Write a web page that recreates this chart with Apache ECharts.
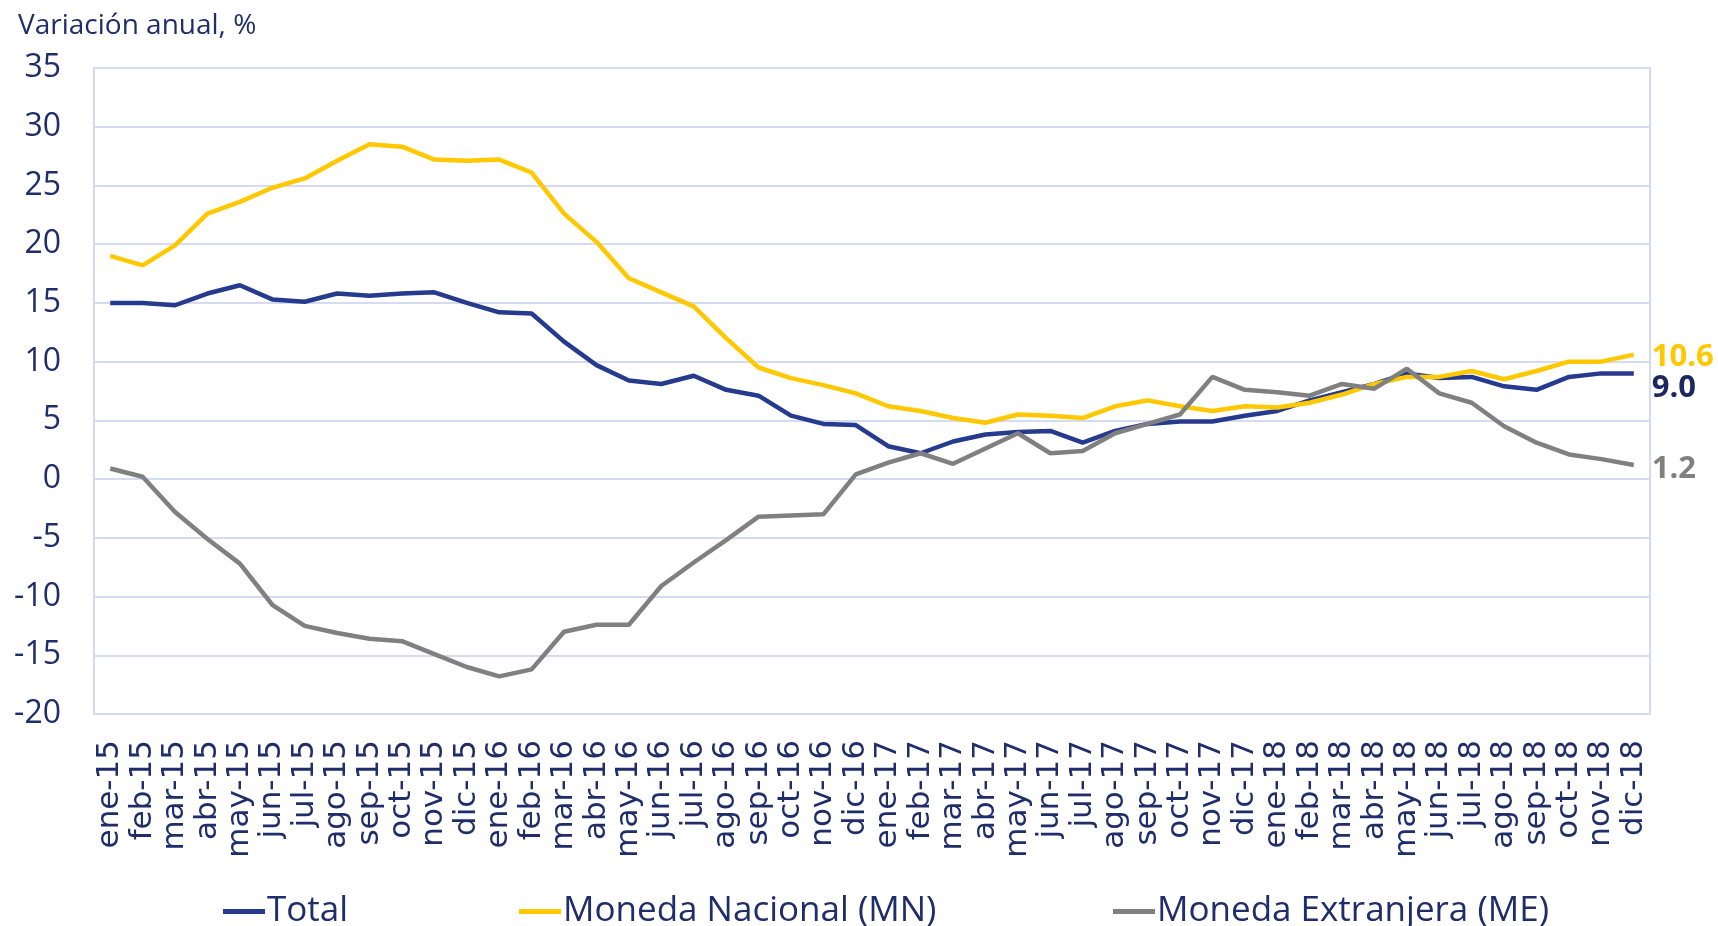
<!DOCTYPE html>
<html>
<head>
<meta charset="utf-8">
<script src="https://cdn.jsdelivr.net/npm/echarts@6/dist/echarts.min.js"></script>
<style>
html, body { margin: 0; padding: 0; background: #fff; }
#chart { width: 1718px; height: 926px; }
</style>
</head>
<body>
<div id="chart"></div>
<script>
// meses ene-15 ... dic-18
var meses = ['ene-15','feb-15','mar-15','abr-15','may-15','jun-15','jul-15','ago-15','sep-15','oct-15','nov-15','dic-15',
  'ene-16','feb-16','mar-16','abr-16','may-16','jun-16','jul-16','ago-16','sep-16','oct-16','nov-16','dic-16',
  'ene-17','feb-17','mar-17','abr-17','may-17','jun-17','jul-17','ago-17','sep-17','oct-17','nov-17','dic-17',
  'ene-18','feb-18','mar-18','abr-18','may-18','jun-18','jul-18','ago-18','sep-18','oct-18','nov-18','dic-18'];

var total = [15.0,15.0,14.8,15.8,16.5,15.3,15.1,15.8,15.6,15.8,15.9,15.0,
  14.2,14.1,11.7,9.7,8.4,8.1,8.8,7.6,7.1,5.4,4.7,4.6,
  2.8,2.2,3.2,3.8,4.0,4.1,3.1,4.1,4.7,4.9,4.9,5.4,
  5.8,6.7,7.4,8.1,9.0,8.6,8.7,7.9,7.6,8.7,9.0,9.0];

var mn = [19.0,18.2,19.9,22.6,23.6,24.8,25.6,27.1,28.5,28.3,27.2,27.1,
  27.2,26.1,22.6,20.2,17.1,15.9,14.7,12.0,9.5,8.6,8.0,7.3,
  6.2,5.8,5.2,4.8,5.5,5.4,5.2,6.2,6.7,6.2,5.8,6.2,
  6.1,6.5,7.2,8.1,8.7,8.7,9.2,8.5,9.2,10.0,10.0,10.6];

var me = [0.9,0.2,-2.8,-5.1,-7.2,-10.7,-12.5,-13.1,-13.6,-13.8,-14.9,-16.0,
  -16.8,-16.2,-13.0,-12.4,-12.4,-9.1,-7.1,-5.2,-3.2,-3.1,-3.0,0.4,
  1.4,2.2,1.3,2.6,3.9,2.2,2.4,3.9,4.7,5.5,8.7,7.6,
  7.4,7.1,8.1,7.7,9.4,7.3,6.5,4.5,3.1,2.1,1.7,1.2];

var nombres = ['Total', 'Moneda Nacional (MN)', 'Moneda Extranjera (ME)'];
var colores = ['#263b8e', '#ffc800', '#808080'];
var coloresEtiqueta = ['#1c275f', '#ffc800', '#808080'];
var azul = '#1f2d6b';
var rejilla = '#d5dbf1';

var chart = echarts.init(document.getElementById('chart'));

function serie(i, datos, offsetY) {
  return {
    name: nombres[i],
    type: 'line',
    data: datos,
    symbol: 'none',
    lineStyle: { color: colores[i], width: 4.5 },
    itemStyle: { color: colores[i] },
    endLabel: {
      show: true,
      formatter: function (p) { return p.value.toFixed(1); },
      color: coloresEtiqueta[i],
      fontFamily: 'Open Sans',
      fontWeight: 'bold',
      fontSize: 31,
      distance: 18,
      offset: [0, offsetY]
    }
  };
}

function leyenda(i, left) {
  return {
    data: [nombres[i]],
    left: left,
    top: 889,
    icon: 'rect',
    itemWidth: 42,
    itemHeight: 5,
    itemGap: 0,
    textStyle: { color: azul, fontFamily: 'Open Sans', fontSize: 35, padding: [0, 0, 0, -3] }
  };
}

chart.setOption({
  animation: false,
  backgroundColor: '#fff',
  title: {
    text: 'Variación anual, %',
    left: 13,
    top: 7,
    textStyle: { color: azul, fontFamily: 'Open Sans', fontWeight: 'normal', fontSize: 28 }
  },
  legend: [leyenda(0, 218), leyenda(1, 514), leyenda(2, 1108)],
  grid: {
    left: 94, right: 68, top: 68, bottom: 212,
    show: true, borderColor: rejilla, borderWidth: 2
  },
  xAxis: {
    type: 'category',
    data: meses,
    boundaryGap: true,
    axisLine: { onZero: false, show: false },
    axisTick: { show: false },
    axisLabel: {
      interval: 0,
      rotate: 90,
      margin: 26,
      color: azul,
      fontFamily: 'DejaVu Sans',
      fontSize: 31
    }
  },
  yAxis: {
    type: 'value',
    min: -20,
    max: 35,
    interval: 5,
    axisLine: { show: false },
    axisTick: { show: false },
    splitLine: { lineStyle: { color: rejilla, width: 2 } },
    axisLabel: {
      margin: 33,
      color: azul,
      fontFamily: 'Open Sans',
      fontSize: 32
    }
  },
  series: [serie(0, total, 15), serie(1, mn, 3), serie(2, me, 4)]
});
</script>
</body>
</html>
